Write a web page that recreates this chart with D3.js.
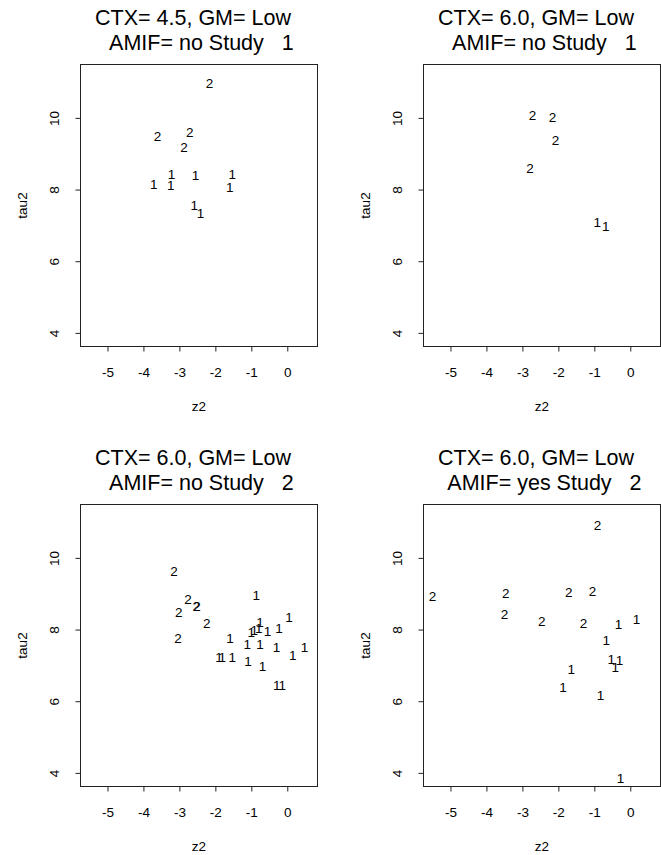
<!DOCTYPE html>
<html>
<head>
<meta charset="utf-8">
<script src="https://cdn.jsdelivr.net/npm/d3@7.9.0/dist/d3.min.js"></script>
<style>
  html, body { margin: 0; padding: 0; background: #fff; }
  svg { display: block; font-family: "Liberation Sans", Arial, Helvetica, sans-serif; }
</style>
</head>
<body>
<div id="chart"></div>
<script>
// panel titles (two lines each), top-left, top-right, bottom-left, bottom-right
const titleTop = ["CTX= 4.5, GM= Low  ", "CTX= 6.0, GM= Low  ", "CTX= 6.0, GM= Low  ", "CTX= 6.0, GM= Low  "];
const titleBottom = [" AMIF= no Study   1", " AMIF= no Study   1", " AMIF= no Study   2", " AMIF= yes Study   2"];

const xTicks = [-5, -4, -3, -2, -1, 0];
const yTicks = [4, 6, 8, 10];

// [z2, tau2, label]
const ctx45NoStudy1 = [
  [-2.16, 10.96, "2"], [-3.61, 9.49, "2"], [-2.71, 9.61, "2"], [-2.87, 9.19, "2"],
  [-3.71, 8.16, "1"], [-3.22, 8.42, "1"], [-3.24, 8.11, "1"], [-2.55, 8.39, "1"],
  [-1.53, 8.42, "1"], [-1.60, 8.08, "1"], [-2.59, 7.57, "1"], [-2.41, 7.35, "1"]
];
const ctx60NoStudy1 = [
  [-2.72, 10.07, "2"], [-2.16, 10.03, "2"], [-2.08, 9.37, "2"], [-2.79, 8.61, "2"],
  [-0.92, 7.08, "1"], [-0.68, 6.97, "1"]
];
const ctx60NoStudy2 = [
  [-3.15, 9.62, "2"], [-2.76, 8.85, "2"], [-2.53, 8.66, "2"], [-2.51, 8.65, "2"],
  [-3.02, 8.49, "2"], [-2.24, 8.17, "2"], [-3.04, 7.75, "2"],
  [-0.86, 8.97, "1"], [0.05, 8.34, "1"], [-0.76, 8.22, "1"], [-1.00, 7.94, "1"],
  [-0.92, 7.98, "1"], [-0.79, 8.03, "1"], [-0.55, 7.96, "1"], [-0.23, 8.04, "1"],
  [-1.59, 7.76, "1"], [-1.11, 7.58, "1"], [-0.76, 7.58, "1"], [-0.30, 7.50, "1"],
  [0.48, 7.50, "1"], [0.15, 7.28, "1"], [-1.90, 7.24, "1"], [-1.81, 7.24, "1"],
  [-1.53, 7.24, "1"], [-1.09, 7.12, "1"], [-0.69, 6.99, "1"], [-0.29, 6.44, "1"],
  [-0.14, 6.46, "1"]
];
const ctx60YesStudy2 = [
  [-0.91, 10.91, "2"], [-5.50, 8.94, "2"], [-3.46, 9.03, "2"], [-3.50, 8.43, "2"],
  [-2.46, 8.24, "2"], [-1.71, 9.05, "2"], [-1.05, 9.08, "2"], [-1.30, 8.18, "2"],
  [-0.33, 8.14, "1"], [0.17, 8.30, "1"], [-0.67, 7.71, "1"], [-0.53, 7.18, "1"],
  [-0.30, 7.15, "1"], [-0.42, 6.96, "1"], [-1.64, 6.89, "1"], [-1.87, 6.38, "1"],
  [-0.83, 6.17, "1"], [-0.27, 3.86, "1"]
];

const panelData = [ctx45NoStudy1, ctx60NoStudy1, ctx60NoStudy2, ctx60YesStudy2];

const width = 661;
const height = 855;
const boxW = 237;
const boxH = 282;
const colLeft = [80.5, 423.5];
const rowTop = [64.5, 504.5];
const ink = "#222";

const svg = d3.select("#chart")
  .append("svg")
  .attr("width", width)
  .attr("height", height);

const x = d3.scaleLinear().domain([-5.75, 0.84]).range([0, boxW]);
const y = d3.scaleLinear().domain([3.62, 11.49]).range([boxH, 0]);

panelData.forEach((points, i) => {
  const left = colLeft[i % 2];
  const top = rowTop[Math.floor(i / 2)];

  const g = svg.append("g").attr("transform", `translate(${left},${top})`);

  // titles
  g.append("text")
    .attr("x", boxW / 2).attr("y", -39.5)
    .attr("text-anchor", "middle")
    .style("white-space", "pre")
    .attr("font-size", 21.5)
    .text(titleTop[i]);
  g.append("text")
    .attr("x", boxW / 2).attr("y", -14.5)
    .attr("text-anchor", "middle")
    .style("white-space", "pre")
    .attr("font-size", 21.5)
    .text(titleBottom[i]);

  // box
  g.append("rect")
    .attr("width", boxW).attr("height", boxH)
    .attr("fill", "none").attr("stroke", ink);

  // x axis
  const xAxis = g.append("g")
    .attr("transform", `translate(0,${boxH})`)
    .call(d3.axisBottom(x).tickValues(xTicks).tickSize(5).tickPadding(16).tickFormat(d => String(d)));
  xAxis.select(".domain").remove();
  xAxis.attr("font-family", null).attr("font-size", 13.5);
  xAxis.selectAll("line").attr("stroke", ink);

  // y axis, labels parallel to the axis
  const yAxis = g.append("g")
    .call(d3.axisLeft(y).tickValues(yTicks).tickSize(5).tickFormat(d => String(d)));
  yAxis.select(".domain").remove();
  yAxis.attr("font-family", null).attr("font-size", 13.5);
  yAxis.selectAll("line").attr("stroke", ink);
  yAxis.selectAll("text")
    .attr("x", 0).attr("y", -26).attr("dy", "0.36em")
    .attr("text-anchor", "middle")
    .attr("transform", "rotate(-90)");

  // axis labels
  g.append("text")
    .attr("x", boxW / 2).attr("y", boxH + 60).attr("dy", "0.36em")
    .attr("text-anchor", "middle").attr("font-size", 13.5)
    .text("z2");
  g.append("text")
    .attr("transform", `translate(-58.5,${boxH / 2}) rotate(-90)`)
    .attr("dy", "0.36em")
    .attr("text-anchor", "middle").attr("font-size", 13.5)
    .text("tau2");

  // points drawn as their group label
  g.append("g")
    .selectAll("text")
    .data(points)
    .join("text")
    .attr("x", d => x(d[0]))
    .attr("y", d => y(d[1]))
    .attr("dy", "0.36em")
    .attr("text-anchor", "middle")
    .attr("font-size", 13.5)
    .text(d => d[2]);
});
</script>
</body>
</html>
